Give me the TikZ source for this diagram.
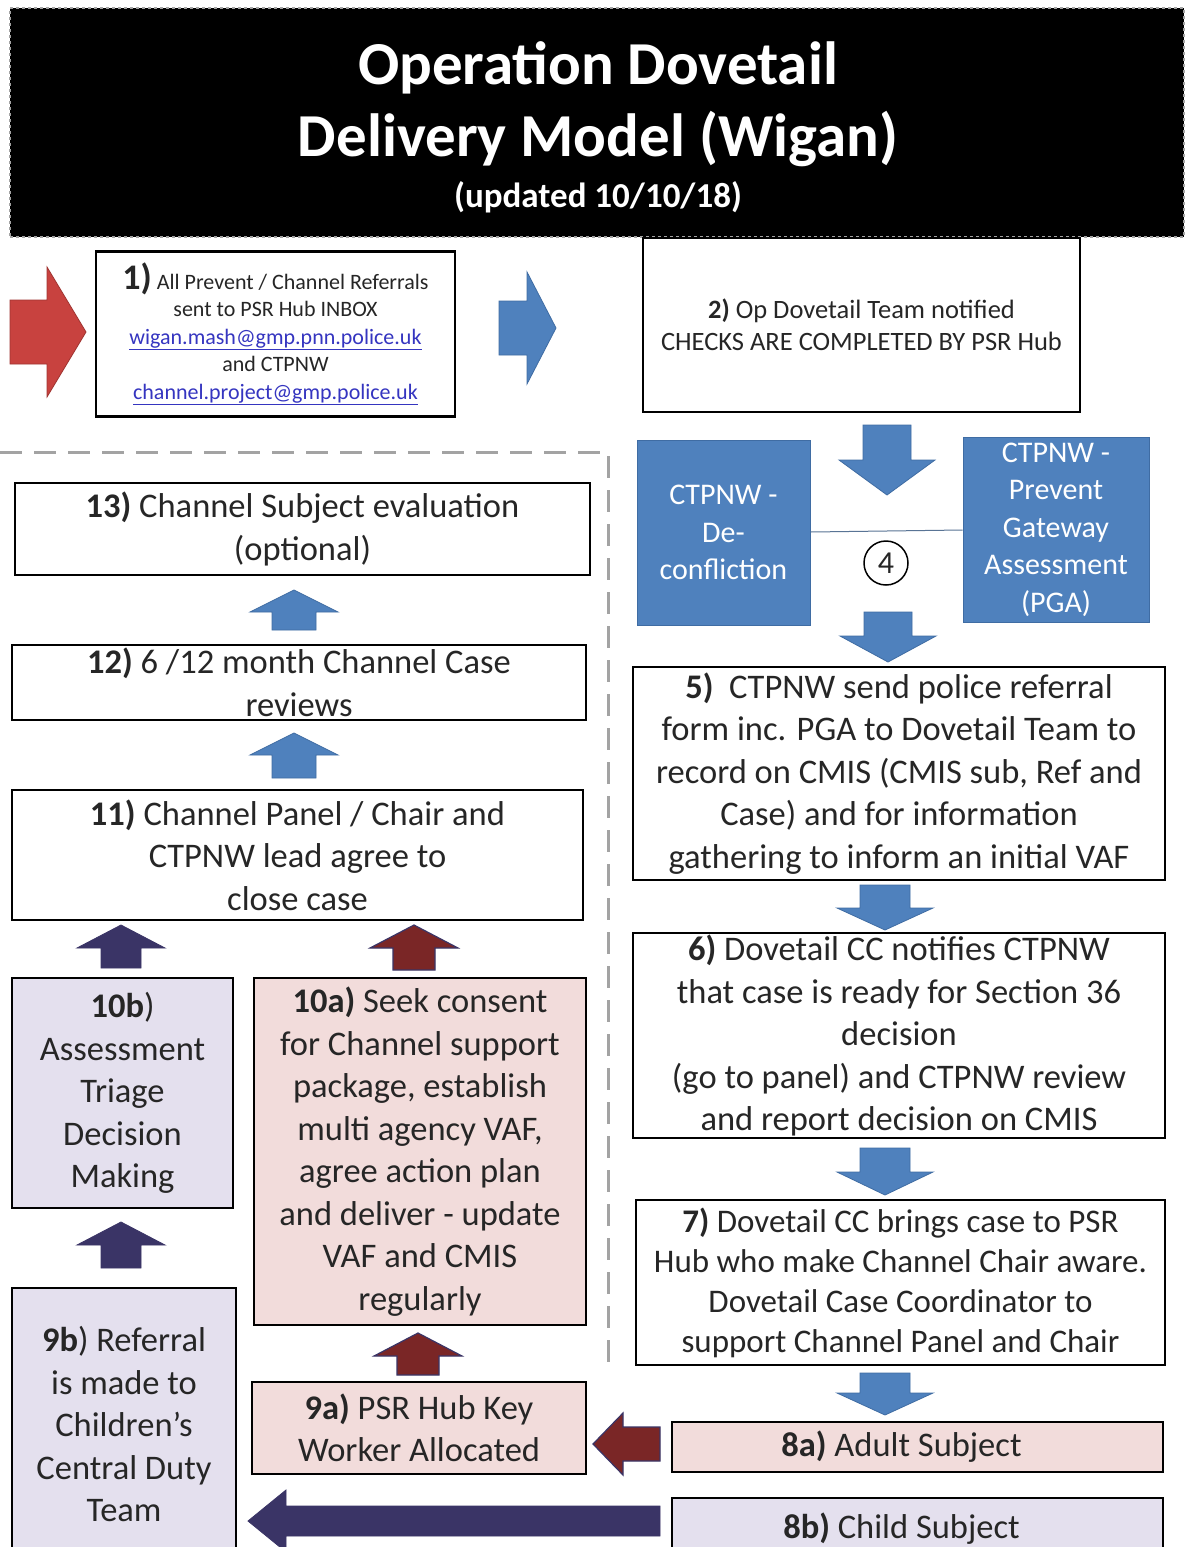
\documentclass[tikz,border=0pt]{standalone}
\usepackage{fontspec}
\setmainfont{Carlito}
\definecolor{obl}{HTML}{4F81BD}
\definecolor{oblb}{HTML}{3F6CA3}
\definecolor{ored}{HTML}{C8423F}
\definecolor{dred}{HTML}{7A2626}
\definecolor{navy}{HTML}{3A3466}
\definecolor{pinkf}{HTML}{F2DCDB}
\definecolor{lavf}{HTML}{E4E0EE}
\definecolor{linkc}{HTML}{3535C0}
\definecolor{dgray}{HTML}{A3A3A3}
\definecolor{txt}{HTML}{262626}
\newcommand{\ArrUp}[7]{\filldraw[#7] ({#1-#5},{#3}) -- ({#1-#5},{#2+#6}) -- ({#1-#4},{#2+#6}) -- ({#1},{#2}) -- ({#1+#4},{#2+#6}) -- ({#1+#5},{#2+#6}) -- ({#1+#5},{#3}) -- cycle;}
\newcommand{\ArrDown}[7]{\filldraw[#7] ({#1-#5},{#2}) -- ({#1-#5},{#3-#6}) -- ({#1-#4},{#3-#6}) -- ({#1},{#3}) -- ({#1+#4},{#3-#6}) -- ({#1+#5},{#3-#6}) -- ({#1+#5},{#2}) -- cycle;}
\newcommand{\ArrLeft}[7]{\filldraw[#7] ({#3},{#1-#5}) -- ({#2+#6},{#1-#5}) -- ({#2+#6},{#1-#4}) -- ({#2},{#1}) -- ({#2+#6},{#1+#4}) -- ({#2+#6},{#1+#5}) -- ({#3},{#1+#5}) -- cycle;}
\newcommand{\ArrRight}[7]{\filldraw[#7] ({#2},{#1-#5}) -- ({#3-#6},{#1-#5}) -- ({#3-#6},{#1-#4}) -- ({#3},{#1}) -- ({#3-#6},{#1+#4}) -- ({#3-#6},{#1+#5}) -- ({#2},{#1+#5}) -- cycle;}
\newcommand{\fBig}{\fontsize{34.5}{42.5}\selectfont}
\begin{document}
\begin{tikzpicture}[x=1pt,y=-1pt,
  box/.style={draw=black, line width=2.5pt, inner sep=0pt, align=center, text=txt, font=\fBig},
  bluebox/.style={fill=obl, draw=oblb, line width=1pt, inner sep=0pt, align=center, text=white, font=\fontsize{30}{37.5}\selectfont},
  blueA/.style={fill=obl, draw=oblb, line width=0.8pt},
  navyA/.style={fill=navy, draw=navy, line width=0.8pt},
  dredA/.style={fill=dred, draw=navy, line width=1.2pt},
  redA/.style={fill=ored, draw=ored!80!black, line width=0.8pt},
  sep/.style={dgray, line width=3pt, dash pattern=on 22pt off 12pt}
]
\useasboundingbox (0,0) rectangle (1184,1547);
\fill[white] (0,0) rectangle (1184,1547);

% title
\node[fill=black, draw=dgray, dashed, line width=2pt, minimum width=1174pt, minimum height=229pt, inner sep=0pt] (title) at (597,122.5) {};
\node[text=white, font=\fontsize{61}{72}\selectfont\bfseries, align=center] (ttext) at (598,104) {Operation Dovetail\\Delivery Model (Wigan)};
\node[text=white, font=\fontsize{35}{40}\selectfont\bfseries] (tdate) at (598,197) {(updated 10/10/18)};

% row 1
\node[box, minimum width=359pt, minimum height=165pt, font=\fontsize{22}{27.5}\selectfont] (b1) at (275.5,334)
 {{\fontsize{36}{27.5}\selectfont\bfseries 1)} All Prevent / Channel Referrals\\
  sent to PSR Hub INBOX\\
  \textcolor{linkc}{\underline{wigan.mash@gmp.pnn.police.uk}}\\
  and CTPNW\\
  \textcolor{linkc}{\underline{channel.project@gmp.police.uk}}};
\node[box, minimum width=437pt, minimum height=174pt, font=\fontsize{26.5}{32}\selectfont] (b2) at (861.5,325)
 {\textbf{2)} Op Dovetail Team notified\\CHECKS ARE COMPLETED BY PSR Hub};

\ArrRight{332}{10}{86}{65}{32}{39}{redA}
\ArrRight{328}{499}{556}{56}{27}{29}{blueA}

% step 4
\node[bluebox, minimum width=173pt, minimum height=185pt] (dec) at (723.5,532.5) {CTPNW -\\De-\\confliction};
\node[bluebox, minimum width=186pt, minimum height=185pt] (pga) at (1056,529.5) {CTPNW -\\Prevent\\Gateway\\Assessment\\(PGA)};
\draw[oblb!60!gray, line width=1pt] (dec.east |- 0,532) -- (pga.west |- 0,530);
\node[circle, draw=black, line width=1.5pt, fill=white, minimum size=44pt, inner sep=0pt, font=\fontsize{32}{34}\selectfont, text=txt] (c4) at (886,563) {4};

\ArrDown{887}{425}{495}{48}{24}{35}{blueA}
\ArrDown{888}{612}{662}{48}{24}{26}{blueA}

% right column
\node[box, minimum width=532pt, minimum height=213pt] (b5) at (899,773.5)
 {\textbf{5)}\ \ CTPNW send police referral\\form inc. PGA to Dovetail Team to\\record on CMIS (CMIS sub, Ref and\\Case) and for information\\gathering to inform an initial VAF};
\ArrDown{885}{885}{930}{48}{25}{22}{blueA}
\node[box, minimum width=532pt, minimum height=205pt] (b6) at (899,1035.5)
 {\textbf{6)} Dovetail CC notifies CTPNW\\that case is ready for Section 36\\decision\\(go to panel) and CTPNW review\\and report decision on CMIS};
\ArrDown{885}{1148}{1195}{48}{25}{23}{blueA}
\node[box, minimum width=529pt, minimum height=165pt, font=\fontsize{33}{40}\selectfont] (b7) at (900.5,1282.5)
 {\textbf{7)} Dovetail CC brings case to PSR\\Hub who make Channel Chair aware.\\Dovetail Case Coordinator to\\support Channel Panel and Chair};
\ArrDown{885}{1373}{1415}{48}{25}{22}{blueA}
\node[box, fill=pinkf, minimum width=491pt, minimum height=50pt] (b8a) at (917.5,1447) {\textbf{8a)} Adult Subject\hspace*{32pt}};
\node[box, fill=lavf, minimum width=491pt, minimum height=62pt] (b8b) at (917.5,1529) {\textbf{8b)} Child Subject\hspace*{32pt}};

\ArrLeft{1444}{593}{660}{31}{17}{30}{dredA}
\ArrLeft{1521}{248}{660}{31}{15}{38}{navyA}

% left column
\node[box, fill=pinkf, minimum width=334pt, minimum height=92pt] (b9a) at (419,1428) {\textbf{9a)} PSR Hub Key\\Worker Allocated};
\node[box, fill=lavf, minimum width=224pt, minimum height=272pt] (b9b) at (124,1424)
 {\textbf{9b}) Referral\\is made to\\Children's\\Central Duty\\Team};
\ArrUp{418}{1333}{1375}{44}{21}{23}{dredA}
\ArrUp{121}{1222}{1268}{44}{20}{23}{navyA}
\node[box, fill=pinkf, minimum width=332pt, minimum height=347pt] (b10a) at (420,1151.5)
 {\textbf{10a)} Seek consent\\for Channel support\\package, establish\\multi agency VAF,\\agree action plan\\and deliver - update\\VAF and CMIS\\regularly};
\node[box, fill=lavf, minimum width=221pt, minimum height=230pt] (b10b) at (122.5,1093)
 {\textbf{10b})\\Assessment\\Triage\\Decision\\Making};
\ArrUp{121}{925}{968}{44}{20}{23}{navyA}
\ArrUp{414}{925}{970}{44}{21}{23}{dredA}
\node[box, minimum width=571pt, minimum height=130pt] (b11) at (297.5,855)
 {\textbf{11)} Channel Panel / Chair and\\CTPNW lead agree to\\close case};
\ArrUp{294}{733}{778}{44}{22}{22}{blueA}
\node[box, minimum width=574pt, minimum height=75pt] (b12) at (299,682.5)
 {\textbf{12)} 6 /12 month Channel Case\\reviews};
\ArrUp{294}{590}{630}{44}{22}{22}{blueA}
\node[box, minimum width=575pt, minimum height=92pt] (b13) at (302.5,529)
 {\textbf{13)} Channel Subject evaluation\\(optional)};

% dashed separator
\draw[sep] (0,452) -- (608,452) -- (608,1365);
\end{tikzpicture}
\end{document}
